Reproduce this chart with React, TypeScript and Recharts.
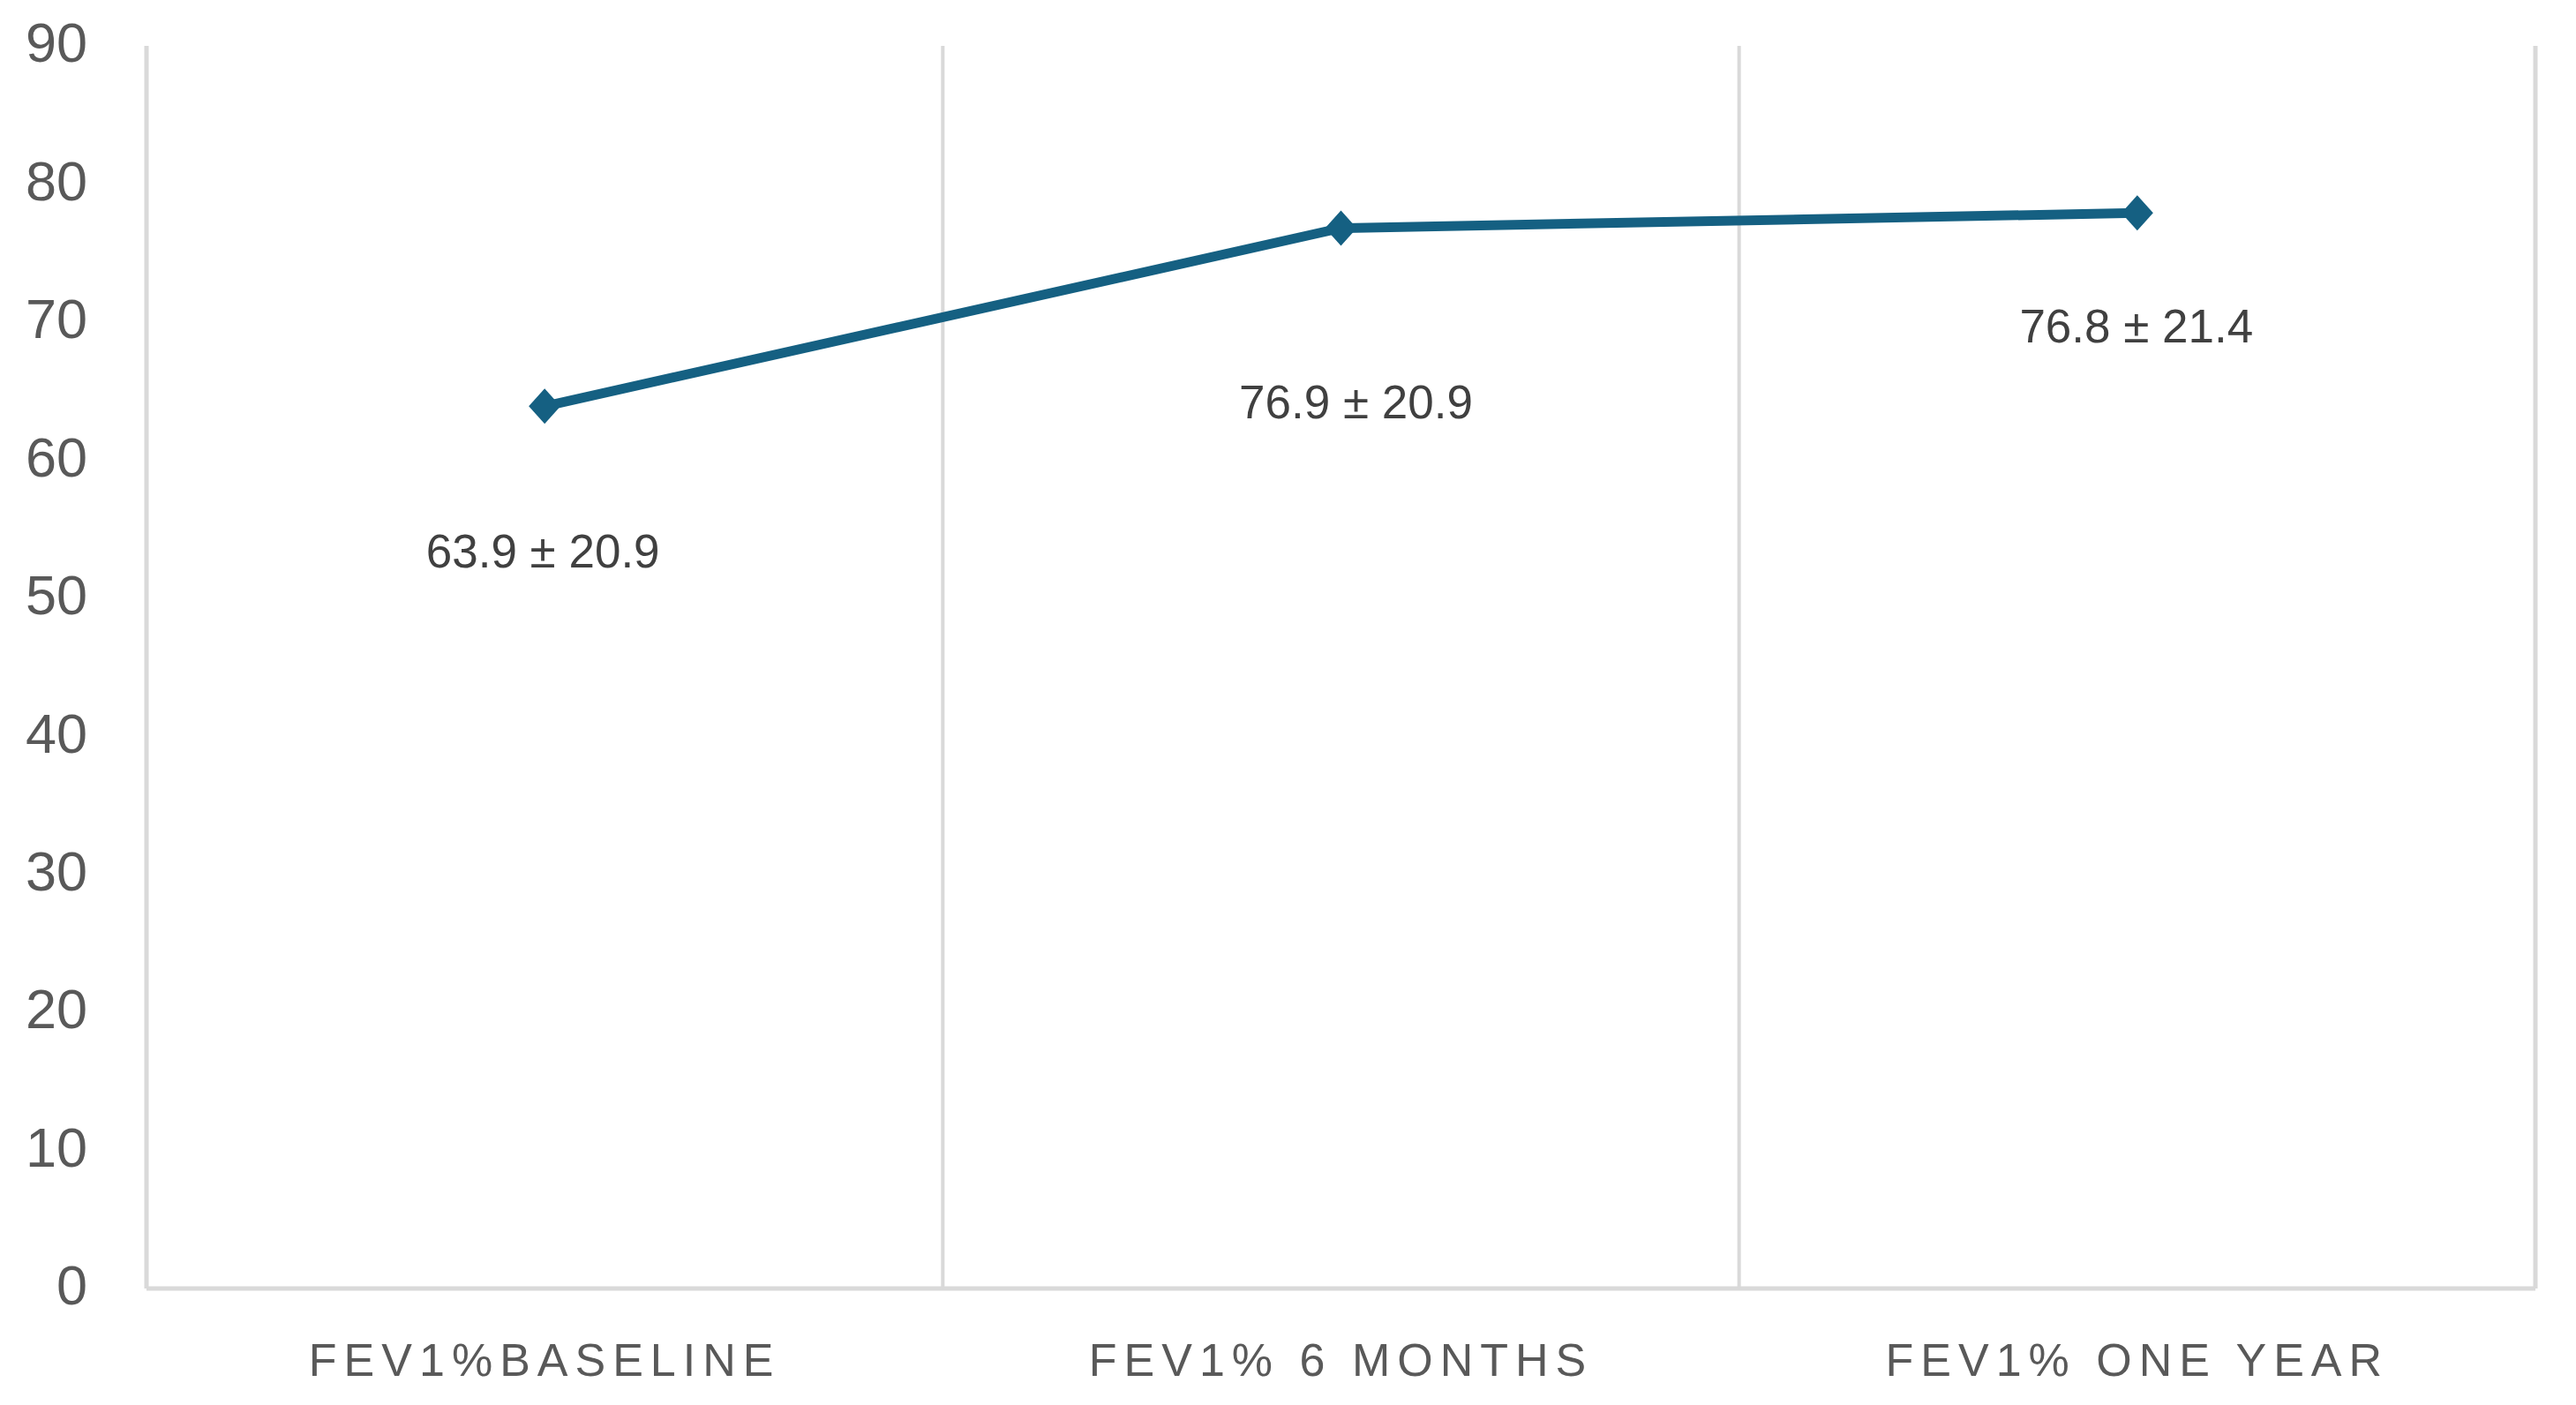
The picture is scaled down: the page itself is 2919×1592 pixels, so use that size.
import React from "react";
import { LineChart, Line, XAxis, YAxis, ReferenceLine, LabelList } from "recharts";

const categories = ["FEV1%BASELINE", "FEV1% 6 MONTHS", "FEV1% ONE YEAR"];
const plottedValues = [63.9, 76.8, 77.9];
const labelMeans = ["63.9", "76.9", "76.8"];
const labelSds = ["20.9", "20.9", "21.4"];
const yTicks = [0, 10, 20, 30, 40, 50, 60, 70, 80, 90];
const boundaries = [0, 1, 2, 3];

const data = categories.map((c, i) => ({
  x: i + 0.5,
  name: c,
  value: plottedValues[i],
  label: `${labelMeans[i]} ± ${labelSds[i]}`,
}));

const LINE_COLOR = "#156082";
const GRID_COLOR = "#d9d9d9";
const LABEL_OFFSETS: [number, number][] = [
  [-2, 183],
  [17, 215],
  [-1, 147],
];

const Diamond = (props: any) => {
  const { cx, cy, index } = props;
  if (cx == null || cy == null) return null;
  const w = 18;
  const h = 20;
  return (
    <polygon
      key={`d-${index}`}
      points={`${cx},${cy - h} ${cx + w},${cy} ${cx},${cy + h} ${cx - w},${cy}`}
      fill={LINE_COLOR}
      stroke="none"
    />
  );
};

const XTick = (props: any) => {
  const { x, y, payload } = props;
  const idx = Math.round(payload.value - 0.5);
  return (
    <text
      x={x}
      y={y}
      dy="0.71em"
      textAnchor="middle"
      fill="#595959"
      fontSize={52}
      fontFamily="Liberation Sans, Arial, sans-serif"
      style={{ letterSpacing: "8px" }}
    >
      {categories[idx]}
    </text>
  );
};

const YTick = (props: any) => {
  const { x, y, payload } = props;
  return (
    <text
      x={x}
      y={y - 4}
      dy="0.355em"
      textAnchor="end"
      fill="#595959"
      fontSize={63}
      fontFamily="Liberation Sans, Arial, sans-serif"
    >
      {payload.value}
    </text>
  );
};

const DataLabel = (props: any) => {
  const { x, y, index, value } = props;
  const [dx, dy] = LABEL_OFFSETS[index] || [0, 0];
  return (
    <text
      x={x + dx}
      y={y + dy}
      textAnchor="middle"
      fill="#404040"
      fontSize={53}
      fontFamily="Liberation Sans, Arial, sans-serif"
    >
      {value}
    </text>
  );
};

export default function App() {
  return (
    <div style={{ position: "absolute", left: 0, top: 0, background: "#fff" }}>
      <LineChart
        width={2919}
        height={1592}
        data={data}
        margin={{ top: 52, right: 46, bottom: 0, left: 0 }}
      >
        <XAxis
          type="number"
          dataKey="x"
          domain={[0, 3]}
          ticks={[0.5, 1.5, 2.5]}
          interval={0}
          height={132}
          tickSize={0}
          tickMargin={62}
          tickLine={false}
          axisLine={{ stroke: GRID_COLOR, strokeWidth: 5 }}
          tick={<XTick />}
        />
        <YAxis
          type="number"
          domain={[0, 90]}
          ticks={yTicks}
          interval={0}
          width={166}
          tickSize={0}
          tickMargin={67}
          tickLine={false}
          axisLine={false}
          tick={<YTick />}
        />
        {boundaries.map((b) => (
          <ReferenceLine
            key={b}
            x={b}
            stroke={GRID_COLOR}
            strokeWidth={b === 0 || b === 3 ? 5 : 4}
            ifOverflow="extendDomain"
          />
        ))}
        <Line
          type="linear"
          dataKey="value"
          stroke={LINE_COLOR}
          strokeWidth={11}
          dot={<Diamond />}
          activeDot={false}
          isAnimationActive={false}
        >
          <LabelList dataKey="label" content={<DataLabel />} />
        </Line>
      </LineChart>
    </div>
  );
}
